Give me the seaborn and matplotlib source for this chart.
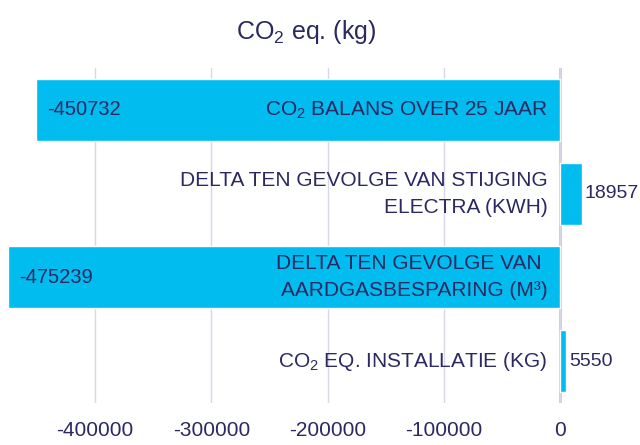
import matplotlib
matplotlib.use("Agg")
import matplotlib.pyplot as plt
import seaborn as sb

# gegevens uit de grafiek
categorieen = ["CO$_2$ BALANS OVER 25 JAAR",
               "DELTA TEN GEVOLGE VAN STIJGING\nELECTRA (KWH)",
               "DELTA TEN GEVOLGE VAN \nAARDGASBESPARING (M³)",
               "CO$_2$ EQ. INSTALLATIE (KG)"]
waarden = [-450732, 18957, -475239, 5550]
x_ticks = [-400000, -300000, -200000, -100000, 0]

blauw = "#00BCEF"
tekst = "#2B2862"

sb.set_style("white")
plt.rcParams['font.family'] = ['Liberation Sans Narrow', 'Liberation Sans', 'DejaVu Sans']
plt.rcParams['mathtext.fontset'] = 'custom'
plt.rcParams['mathtext.rm'] = 'Liberation Sans'
plt.rcParams['mathtext.it'] = 'Liberation Sans'
plt.rcParams['mathtext.default'] = 'regular'

fig = plt.figure(figsize=(6.4, 4.45), dpi=100)
ax = fig.add_axes([0, 1 - 403 / 445, 1, 335 / 445])

sb.barplot(x=waarden, y=categorieen, orient="h", color=blauw, saturation=1,
           width=0.74, ax=ax)

ax.set_xlim(-482000, 69000)
ax.set_xticks(x_ticks)
ax.set_xticklabels([str(t) for t in x_ticks])
ax.grid(axis="x", color="#D9D6EA", linewidth=1)
ax.set_axisbelow(True)
ax.axvline(0, color="#C9C6DC", linewidth=2, zorder=0.5)
ax.set_yticks([])
ax.set_ylabel("")
ax.set_xlabel("")
for s in ax.spines.values():
    s.set_visible(False)
ax.tick_params(axis="x", length=0, pad=13, labelsize=15, labelcolor=tekst)

for i, (naam, w) in enumerate(zip(categorieen, waarden)):
    ax.annotate(naam, (0, i), xytext=(-12, 0), textcoords="offset pixels",
                ha="right", va="center", fontsize=15, color=tekst,
                linespacing=1.55)
    if w < 0:
        ax.annotate(str(w), (w, i), xytext=(11, 0), textcoords="offset pixels",
                    ha="left", va="center", fontsize=14.5, color=tekst)
    else:
        ax.annotate(str(w), (w, i), xytext=(3, 0), textcoords="offset pixels",
                    ha="left", va="center", fontsize=14, color=tekst)

fig.text(306 / 640, 1 - 32 / 445, "CO$_2$ eq. (kg)", ha="center", va="center",
         fontsize=18, color=tekst)

fig.savefig("out.png", dpi=100)
